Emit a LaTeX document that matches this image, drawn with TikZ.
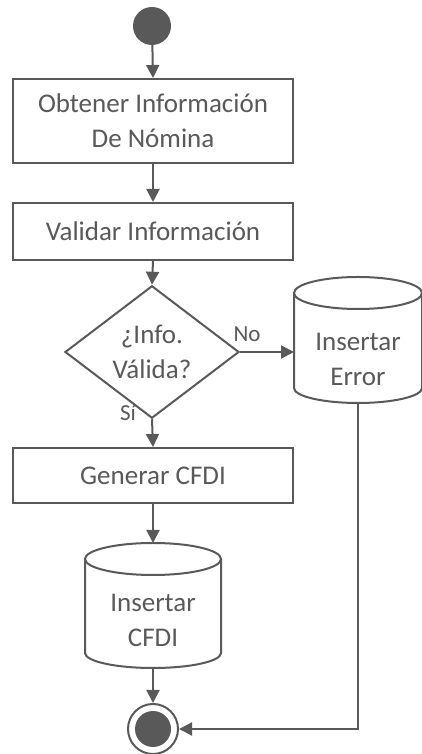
\documentclass[tikz,border=0pt]{standalone}
\usepackage{fontspec}
\setmainfont{Carlito}
\usetikzlibrary{shapes.geometric,arrows.meta}
\definecolor{ink}{HTML}{595959}
\begin{document}
\begin{tikzpicture}[x=1pt,y=1pt,
  every node/.style={text=ink,font=\fontsize{27}{35}\selectfont},
  line/.style={draw=ink,line width=2pt},
  flow/.style={line,-{Triangle[length=13pt,width=13pt]}},
  stepbox/.style={line,rectangle,minimum width=280pt,inner sep=0pt,align=center,fill=white},
  decision/.style={line,diamond,minimum width=174pt,minimum height=108pt,inner sep=0pt,align=center},
  lbl/.style={font=\fontsize{23}{26}\selectfont,inner sep=0pt}]
\useasboundingbox (0,0) rectangle (422,754);

% start and end markers
\node[circle,fill=ink,minimum size=38pt,inner sep=0pt] (start) at (152,728) {};
\node[circle,line,fill=white,minimum size=50pt,inner sep=0pt] (end) at (153,25) {};
\node[circle,fill=ink,minimum size=36pt,inner sep=0pt] (endin) at (end.center) {};

% process steps
\node[stepbox,minimum height=84pt] (obtener) at (153,633) {Obtener Información\\De Nómina};
\node[stepbox,minimum height=57pt] (validar) at (153,522.5) {Validar Información};
\node[decision] (valida) at (152,402) {¿Info.\\Válida?};
\node[stepbox,minimum height=55pt] (generar) at (153,278.5) {Generar CFDI};

% database: Insertar Error
\draw[line,fill=white] (294,461) -- (294,366)
  arc[start angle=180,end angle=360,x radius=64,y radius=15] -- (422,461);
\draw[line,fill=white] (358,461) ellipse[x radius=64,y radius=16];
\node[align=center] (error) at (358,395) {Insertar\\Error};
\coordinate (errleft) at (294,402);
\coordinate (errbot) at (358,351);

% database: Insertar CFDI
\draw[line,fill=white] (85,195) -- (85,101)
  arc[start angle=180,end angle=360,x radius=68,y radius=15] -- (221,195);
\draw[line,fill=white] (153,195) ellipse[x radius=68,y radius=16];
\node[align=center] (cfdi) at (153,133.5) {Insertar\\CFDI};
\coordinate (cfditop) at (153,211);
\coordinate (cfdibot) at (153,86);

% branch labels
\node[lbl] (no) at (247,420) {No};
\node[lbl] (si) at (128,341) {Sí};

% connectors
\draw[flow] (start) -- (obtener.north);
\draw[flow] (obtener.south) -- (validar.north);
\draw[flow] (validar.south) -- (valida.north);
\draw[flow] (valida.east) -- (errleft);
\draw[flow] (valida.south) -- (generar.north);
\draw[flow] (generar.south) -- (cfditop);
\draw[flow] (cfdibot) -- (end.north);
\draw[flow] (errbot) |- (end.east);
\end{tikzpicture}
\end{document}
